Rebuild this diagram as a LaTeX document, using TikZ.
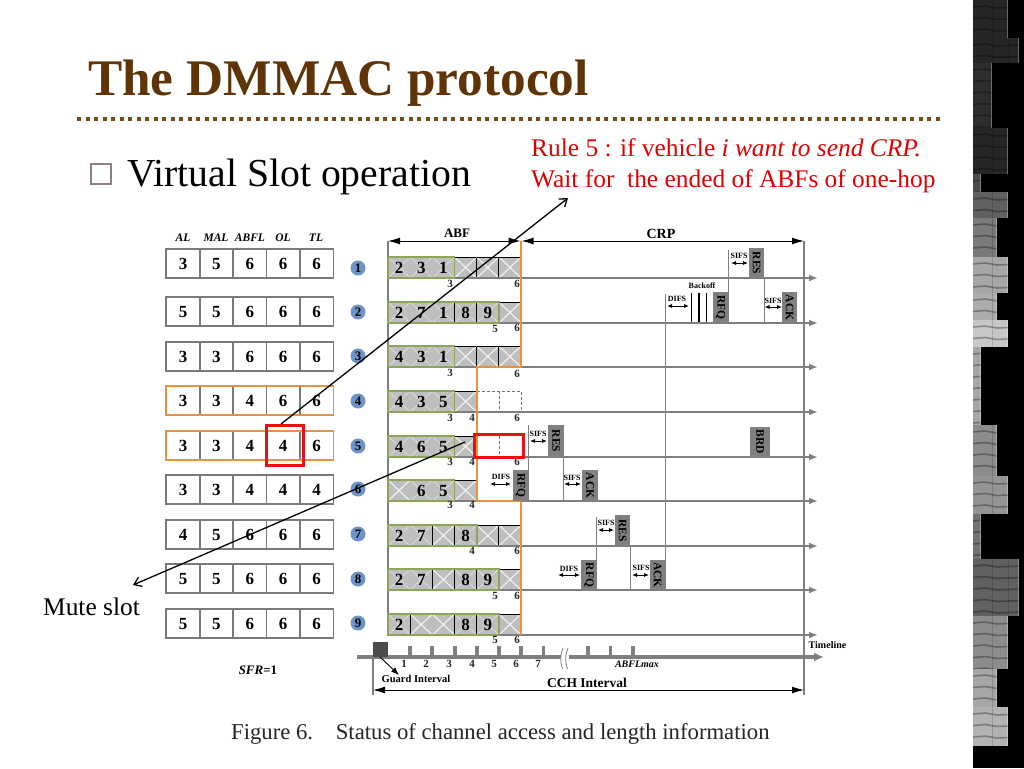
\documentclass[tikz,border=0pt]{standalone}
\usepackage{fontspec}
\setmainfont{Liberation Serif}
\usetikzlibrary{arrows.meta}
\definecolor{titlebrown}{HTML}{5F3508}
\definecolor{dotcol}{HTML}{7A4E10}
\definecolor{bulletcol}{HTML}{918080}
\definecolor{axisgray}{HTML}{7F7F7F}
\definecolor{boxgray}{HTML}{808080}
\definecolor{tblgray}{HTML}{7A7A7A}
\definecolor{orangeln}{HTML}{E8923C}
\definecolor{greenln}{HTML}{8CA55A}
\definecolor{hatchbg}{HTML}{BEBEBE}
\definecolor{circblue}{HTML}{6E93C6}
\definecolor{redtxt}{HTML}{E00000}
\definecolor{redbox}{HTML}{E81010}
\newcommand\fsz[1]{\fontsize{#1}{#1}\selectfont}
\tikzset{
  tcell/.style={draw=tblgray,line width=1.5pt,minimum width=33.6pt,minimum height=29pt,inner sep=0pt,text height=11.4pt,text depth=0pt,font=\fsz{17}\bfseries},
  colhead/.style={inner sep=0pt,font=\fsz{11.5}\bfseries\itshape},
  numlab/.style={inner sep=0pt,text height=11.4pt,text depth=0pt,font=\fsz{17}\bfseries},
  tinylab/.style={inner sep=0pt,font=\fsz{11}\bfseries,text=black!85},
  tbox/.style={fill=boxgray,minimum height=15.5pt,inner sep=0pt,rotate=-90,font=\fsz{11.5}\bfseries},
  gaplab/.style={inner sep=0pt,font=\fsz{8}\bfseries},
  gaparrow/.style={{Latex[length=5pt,width=4pt]}-{Latex[length=5pt,width=4pt]},line width=.8pt},
  vline/.style={draw=black!50,line width=1pt},
  rowaxis/.style={draw=axisgray,line width=1.8pt,-{Latex[length=9pt,width=7pt]}},
  spanarrow/.style={{Latex[length=12pt,width=7pt]}-{Latex[length=12pt,width=7pt]},line width=1pt},
  callout/.style={-{Straight Barb[length=7pt,width=10pt]},line width=1.3pt},
  slidetxt/.style={inner sep=0pt,anchor=base west},
  redrect/.style={draw=redbox,line width=3pt,inner sep=0pt},
  bluecirc/.style={circle,fill=circblue,minimum size=15pt,inner sep=0pt,font=\fsz{13}\bfseries},
}
\newcommand\tablerow[7]{%
  \foreach \c/\v in {1/#3,2/#4,3/#5,4/#6,5/#7}{%
    \pgfmathsetmacro\cx{183+33.4*(\c-1)}
    \node[tcell] (t#1c\c) at (\cx,#2+14.5) {\v};
  }}
\newcommand\numcells[3]{%
  \foreach \c/\v in {#3}{%
    \pgfmathsetmacro\xa{388+22.17*(\c-1)}
    \pgfmathsetmacro\xb{388+22.17*\c}
    \fill[hatchbg] (\xa,#2-21) rectangle (\xb,#2);
    \draw[white!45!hatchbg,line width=.8pt] (\xa,#2-21) -- (\xb,#2) (\xa,#2) -- (\xb,#2-21);
    \draw[black,line width=.9pt] (\xa,#2-21) -- (\xb,#2-21) (\xb,#2-21) -- (\xb,#2);
    \node[numlab] (a#1c\c) at ({(\xa+\xb)/2},#2-10.5) {\v};
  }}
\newcommand\xcells[2]{%
  \foreach \c in {#2}{%
    \pgfmathsetmacro\xa{388+22.17*(\c-1)}
    \pgfmathsetmacro\xb{388+22.17*\c}
    \fill[hatchbg] (\xa,#1-21) rectangle (\xb,#1);
    \draw[white!80!hatchbg,line width=1.1pt] (\xa,#1-21) -- (\xb,#1) (\xa,#1) -- (\xb,#1-21);
    \draw[black,line width=.9pt] (\xa,#1-21) -- (\xb,#1-21) (\xb,#1-21) -- (\xb,#1);
  }}
\newcommand\greenframe[2]{%
  \pgfmathsetmacro\xb{388+22.17*#2}
  \draw[greenln,line width=1.8pt] (388,#1-21) rectangle (\xb,#1);}
\newcommand\slotlab[4]{\node[tinylab] (#1) at (#2,#3) {#4};}
\newcommand\vln[4]{\coordinate (#1a) at (#2,#3); \coordinate (#1b) at (#2,#4); \draw[vline] (#1a) -- (#1b);}
\newcommand\gap[4]{\coordinate (#1a) at (#2,#4); \coordinate (#1b) at (#3,#4); \draw[gaparrow] (#1a) -- (#1b);}
\newcommand\stripblock[4]{%
  \fill[#4] (973,#1) rectangle (#3,#2);
  \begin{scope}
    \clip (973,#1) rectangle (#3,#2);
    \foreach \n in {0,...,6}{%
      \draw[black,opacity=.3,line width=1.6pt] (973,#1+7+11.5*\n) -- (985,#1+6+11.5*\n) -- (997,#1+8+11.5*\n) -- (1020,#1+7+11.5*\n);
    }
    \draw[black,opacity=.15,line width=.9pt] (992,#1) -- (992,#2) (1008,#1) -- (1008,#2);
  \end{scope}
  \draw[white,opacity=.3,line width=1.2pt] (#3-.6,#1) -- (#3-.6,#2);}
\begin{document}
\begin{tikzpicture}[x=1pt,y=-1pt]
\useasboundingbox (0,0) rectangle (1024,768);
\fill[white] (0,0) rectangle (1024,768);
\fill[black] (973,0) rectangle (1024,768);
\stripblock{0}{38}{1008}{black!85}
\stripblock{38}{63}{1019}{black!85}
\stripblock{63}{128}{992}{black!82}
\stripblock{128}{174}{1008}{black!85}
\stripblock{174}{192}{981}{black!70}
\stripblock{192}{218}{1008}{black!62}
\stripblock{218}{257}{997}{black!52}
\stripblock{257}{293}{1008}{black!35}
\stripblock{293}{320}{997}{black!32}
\stripblock{320}{347}{1008}{black!22}
\stripblock{347}{425}{981}{black!35}
\stripblock{425}{476}{997}{black!45}
\stripblock{476}{514}{1008}{black!42}
\stripblock{514}{559}{981}{black!55}
\stripblock{559}{616}{1019}{black!62}
\stripblock{616}{669}{1008}{black!45}
\stripblock{669}{707}{997}{black!35}
\stripblock{707}{746}{1008}{black!30}
% title
\node[slidetxt,text=titlebrown,font=\fsz{51.3}\bfseries] (title) at (88,95) {The DMMAC protocol};
\coordinate (ruleL) at (77,119);
\coordinate (ruleR) at (943,119);
\draw[dotcol,line width=4.2pt,dash pattern=on 4.3pt off 4.2pt] (ruleL) -- (ruleR);
\node[draw=bulletcol,line width=2.4pt,fill=white,minimum size=20.5pt,inner sep=0pt] (bullet) at (101,174) {};
\node[slidetxt,font=\fsz{39.7}] (sub) at (127,186) {Virtual Slot operation};
\node[slidetxt,text=redtxt,font=\fsz{25.4}] (rule1) at (531,156) {Rule 5 : if vehicle \textit{i want to send CRP.}};
\node[slidetxt,text=redtxt,font=\fsz{25.4}] (rule2) at (531,187) {Wait for\ \ the ended of ABFs of one-hop};
\node[slidetxt,font=\fsz{25.4}] (mute) at (43,615) {Mute slot};
% column heads
\foreach \n/\cx/\t in {h1/183/AL,h2/216/MAL,h3/250/ABFL,h4/283/OL,h5/316/TL}{\node[colhead] (\n) at (\cx,238) {\t};}
% left table
\tablerow{1}{249}{3}{5}{6}{6}{6}
\tablerow{2}{297}{5}{5}{6}{6}{6}
\tablerow{3}{342}{3}{3}{6}{6}{6}
\tablerow{4}{386}{3}{3}{4}{6}{6}
\tablerow{5}{431}{3}{3}{4}{4}{6}
\tablerow{6}{475}{3}{3}{4}{4}{4}
\tablerow{7}{520}{4}{5}{6}{6}{6}
\tablerow{8}{564}{5}{5}{6}{6}{6}
\tablerow{9}{609}{5}{5}{6}{6}{6}
\draw[orangeln,line width=1.6pt] (166,386) rectangle (333.5,415);
\draw[orangeln,line width=1.6pt] (166,431) rectangle (333.5,460);
% circles
\foreach \r/\cy in {1/268,2/312,3/356,4/401,5/446,6/489,7/534,8/579,9/623}{\node[bluecirc] (c\r) at (358,\cy) {\r};}
% ABF cells
\xcells{278}{4,5,6} \numcells{1}{278}{1/2,2/3,3/1}
\xcells{323}{6} \numcells{2}{323}{1/2,2/7,3/1,4/8,5/9}
\xcells{367}{4,5,6} \numcells{3}{367}{1/4,2/3,3/1}
\xcells{412}{4} \numcells{4}{412}{1/4,2/3,3/5}
\xcells{457}{4} \numcells{5}{457}{1/4,2/6,3/5}
\xcells{501}{1,4} \numcells{6}{501}{2/6,3/5}
\xcells{546}{3,5,6} \numcells{7}{546}{1/2,2/7,4/8}
\xcells{590}{3,6} \numcells{8}{590}{1/2,2/7,4/8,5/9}
\xcells{635}{2,3,6} \numcells{9}{635}{1/2,4/8,5/9}
% dashed cells
\draw[black!55,line width=.7pt,dash pattern=on 3pt off 2pt] (477,391) -- (521,391) -- (521,412) (499,391) -- (499,412);
\draw[black!55,line width=.7pt,dash pattern=on 3pt off 2pt] (499,436) -- (499,457);
% row axes
\foreach \r/\cy in {1/278,2/323,3/367,4/412,5/457,6/501,7/546,8/590,9/635}{%
  \coordinate (L\r) at (388,\cy); \coordinate (R\r) at (818,\cy);
  \draw[rowaxis] (L\r) -- (R\r);}
% frame verticals
\coordinate (frT) at (388,241); \coordinate (frB) at (388,635);
\draw[axisgray,line width=1.5pt] (frT) -- (frB);
\coordinate (frRT) at (804,241); \coordinate (frRB) at (804,695);
\draw[axisgray,line width=1.5pt] (frRT) -- (frRB);
\coordinate (gdT) at (373,657); \coordinate (gdB) at (373,695);
\draw[axisgray,line width=1.2pt] (gdT) -- (gdB);
% green frames
\greenframe{278}{3}\greenframe{323}{5}\greenframe{367}{3}\greenframe{412}{3}\greenframe{457}{3}
\greenframe{501}{3}\greenframe{546}{4}\greenframe{590}{5}\greenframe{635}{5}
% long verticals
\vln{v1}{665}{294}{590}
\vln{v2}{728.5}{250}{323}
\vln{v3}{764}{278}{323}
\vln{v4}{528.5}{425}{501}
\vln{v5}{563}{457}{501}
\vln{v6}{596.5}{517}{590}
\vln{v7}{630}{546}{590}
% orange barrier
\coordinate (o1) at (521,241); \coordinate (o2) at (521,367); \coordinate (o3) at (477,367);
\coordinate (o4) at (477,501); \coordinate (o5) at (521,501); \coordinate (o6) at (521,635);
\draw[orangeln,line width=1.8pt] (o1) -- (o2) -- (o3) -- (o4) -- (o5) -- (o6);
% timing boxes
\node[tbox,minimum width=30pt] (res1) at (756.5,263) {RES};
\node[tbox,minimum width=31pt] (rfq2) at (720.5,307.5) {RFQ};
\node[tbox,minimum width=31pt] (ack2) at (789.5,307.5) {ACK};
\node[tbox,minimum width=32pt] (res5) at (556,441) {RES};
\node[tbox,minimum width=30pt,minimum height=20pt] (brd5) at (760,442) {BRD};
\node[tbox,minimum width=31pt] (rfq6) at (520.5,485.5) {RFQ};
\node[tbox,minimum width=31pt] (ack6) at (590,485.5) {ACK};
\node[tbox,minimum width=31pt] (res7) at (622.5,530.5) {RES};
\node[tbox,minimum width=30pt] (rfq8) at (589,575) {RFQ};
\node[tbox,minimum width=30pt] (ack8) at (657.5,575) {ACK};
% backoff
\foreach \n/\cx in {1/691.5,2/699,3/706.5}{\coordinate (bkT\n) at (\cx,293); \coordinate (bkB\n) at (\cx,322); \draw[black,line width=1.5pt] (bkT\n) -- (bkB\n);}
\node[gaplab] (bk) at (702,286) {Backoff};
% interval labels and arrows
\node[gaplab] (s1) at (739,256) {SIFS}; \gap{g1}{731}{748}{263}
\node[gaplab] (d2) at (677,299) {DIFS}; \gap{g2}{667}{689}{306}
\node[gaplab] (s2) at (773,301) {SIFS}; \gap{g3}{764.5}{782}{307}
\node[gaplab] (s5) at (538,434) {SIFS}; \gap{g4}{530}{547}{441}
\node[gaplab] (d6) at (501,477) {DIFS}; \gap{g5}{490}{511}{484}
\node[gaplab] (s6) at (572,478) {SIFS}; \gap{g6}{564}{581}{484}
\node[gaplab] (s7) at (606,523) {SIFS}; \gap{g7}{598}{614}{530}
\node[gaplab] (d8) at (569,569) {DIFS}; \gap{g8}{558}{580}{575}
\node[gaplab] (s8) at (641,568) {SIFS}; \gap{g9}{632}{649}{575}
% slot numbers
\slotlab{l1a}{450}{284}{3}\slotlab{l1b}{517}{284}{6}
\slotlab{l2a}{495}{329}{5}\slotlab{l2b}{517}{328}{6}
\slotlab{l3a}{450}{373}{3}\slotlab{l3b}{517}{374}{6}
\slotlab{l4a}{450}{418}{3}\slotlab{l4b}{472}{418}{4}\slotlab{l4c}{517}{418}{6}
\slotlab{l5a}{450}{462}{3}\slotlab{l5b}{472}{462}{4}\slotlab{l5c}{517}{462}{6}
\slotlab{l6a}{450}{505}{3}\slotlab{l6b}{472}{505}{4}
\slotlab{l7a}{472}{551}{4}\slotlab{l7b}{517}{551}{6}
\slotlab{l8a}{495}{596}{5}\slotlab{l8b}{517}{596}{6}
\slotlab{l9a}{495}{640}{5}\slotlab{l9b}{517}{640}{6}
% headers
\node[inner sep=0pt,font=\fsz{13}\bfseries] (abf) at (457,233.5) {ABF};
\node[inner sep=0pt,font=\fsz{14}\bfseries] (crp) at (661,233.5) {CRP};
\coordinate (sp1) at (388,241); \coordinate (sp2) at (520.5,241); \coordinate (sp3) at (521.5,241); \coordinate (sp4) at (804,241);
\draw[spanarrow] (sp1) -- (sp2);
\draw[spanarrow] (sp3) -- (sp4);
\node[inner sep=0pt,font=\fsz{10}\bfseries] (tl) at (827.5,645) {Timeline};
% timeline
\coordinate (tlL) at (357,657); \coordinate (tlR) at (824,657);
\draw[axisgray,line width=3.2pt,-{Latex[length=10pt,width=9pt]}] (tlL) -- (tlR);
\foreach \n/\cx in {1/410,2/432,3/455,4/477,5/499,6/521,7/543.5,8/588,9/610.5,10/633}{%
  \coordinate (tkT\n) at (\cx,646); \coordinate (tkB\n) at (\cx,657);
  \draw[axisgray,line width=3.4pt] (tkT\n) -- (tkB\n);}
\fill[white] (561,654) rectangle (569,660);
\draw[axisgray,line width=.8pt] (563,648) .. controls (560,655) and (560,661) .. (562.5,669);
\draw[axisgray,line width=.8pt] (568,648) .. controls (565,655) and (565,661) .. (567.5,669);
\foreach \t/\cx in {1/404,2/426,3/449,4/472,5/494,6/516,7/538}{\node[tinylab] (tn\t) at (\cx,664) {\t};}
\node[inner sep=0pt,font=\fsz{10}\bfseries\itshape] (abfm) at (637,664) {ABFLmax};
\node[fill=black!70,minimum size=15pt,inner sep=0pt] (guard) at (380.5,649.5) {};
\node[inner sep=0pt,font=\fsz{10.5}\bfseries] (gi) at (416,679) {Guard Interval};
\coordinate (gS) at (380,657); \coordinate (gE) at (399,675);
\draw[line width=.9pt,-{Latex[length=8pt,width=6pt]}] (gS) -- (gE);
\node[inner sep=0pt,font=\fsz{13.5}\bfseries] (cch) at (587,682.5) {CCH Interval};
\coordinate (cL) at (373,690); \coordinate (cR) at (804,690);
\draw[spanarrow] (cL) -- (cR);
\node[inner sep=0pt,font=\fsz{13}\bfseries] (sfr) at (258,670) {\textit{SFR}=1};
% caption
\node[slidetxt,font=\fsz{22.7},text=black!85] (cap) at (231,739) {Figure 6.\ \ \ \ Status of channel access and length information};
% red boxes
\node[redrect,minimum width=37pt,minimum height=40pt] (red1) at (284.5,445) {};
\node[redrect,minimum width=49pt,minimum height=23pt] (red2) at (498.5,445.5) {};
% callouts
\coordinate (c1S) at (281,424);
\coordinate (c1E) at (568,198);
\coordinate (c2S) at (465,442);
\coordinate (c2E) at (133,585);
\draw[callout] (c1S) -- (c1E);
\draw[callout] (c2S) -- (c2E);
\end{tikzpicture}
\end{document}
